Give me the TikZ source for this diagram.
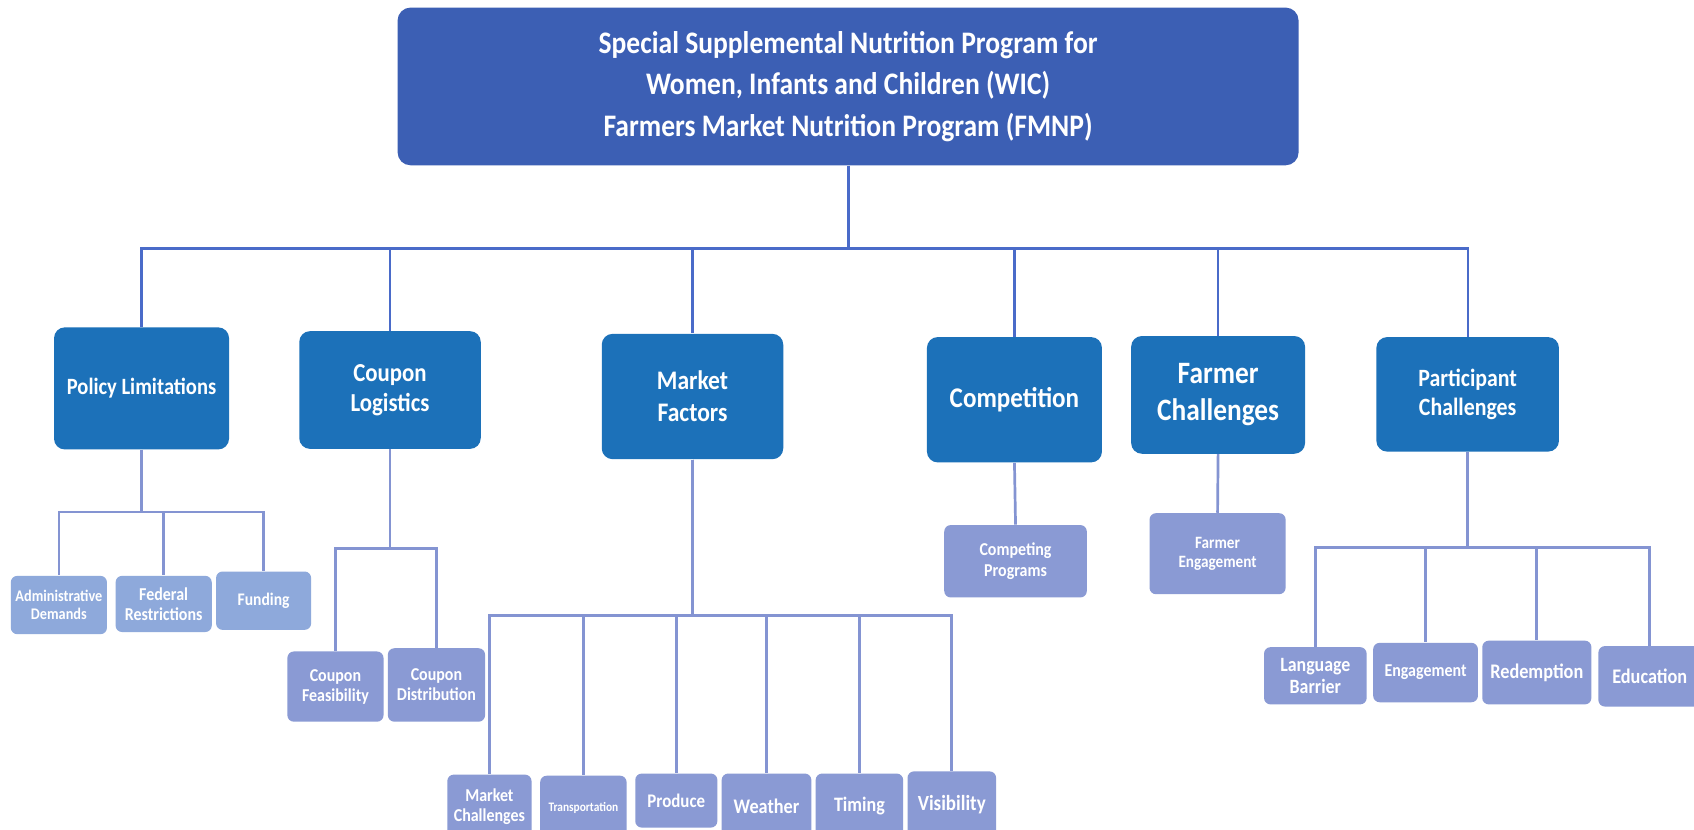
\documentclass[tikz,border=0pt]{standalone}
\usepackage{fontspec}
\setmainfont{Carlito}[FakeStretch=0.88]

\definecolor{rootblue}{HTML}{3C5FB4}
\definecolor{catblue}{HTML}{1C71B9}
\definecolor{leafblue}{HTML}{8A9AD4}
\definecolor{leaflight}{HTML}{8EA9DB}
\definecolor{trunkline}{HTML}{4A6BC9}
\definecolor{branchline}{HTML}{8494D2}

\tikzset{
  box/.style={rectangle, inner sep=1pt, align=center, text=white},
  fsz/.style 2 args={font=\fontsize{#1}{#2}\selectfont\bfseries},
  rootbox/.style={box, fill=rootblue, rounded corners=6pt},
  catbox/.style={box, fill=catblue, rounded corners=5pt},
  leafbox/.style={box, fill=leafblue, rounded corners=3pt},
  lightleaf/.style={box, fill=leaflight, rounded corners=3pt},
  trunk/.style={draw=trunkline, line width=1pt},
  branch/.style={draw=branchline, line width=1.25pt},
}

\begin{document}
\begin{tikzpicture}[x=0.5pt, y=-0.5pt]
\clip (0,0) rectangle (1568,768);
\fill[white] (0,0) rectangle (1568,768);

% top-level programme
\node[rootbox, minimum width=417pt, minimum height=73pt, fsz={14.5}{19.2}] (root) at (785,80)
  {Special Supplemental Nutrition Program for\\Women, Infants and Children (WIC)\\Farmers Market Nutrition Program (FMNP)};

% categories
\node[catbox, minimum width=81pt, minimum height=56.5pt, fsz={10.8}{12.7}] (pol) at (131,359.5) {Policy Limitations};
\node[catbox, minimum width=84pt, minimum height=54.5pt, fsz={12}{14}] (cpl) at (361,361) {Coupon\\Logistics};
\node[catbox, minimum width=84pt, minimum height=58pt, fsz={12.4}{14.8}] (mkt) at (641,367) {Market\\Factors};
\node[catbox, minimum width=81pt, minimum height=58pt, fsz={13.2}{15.5}] (cmp) at (939,370) {Competition};
\node[catbox, minimum width=80.5pt, minimum height=54.5pt, fsz={14.4}{17}] (frm) at (1127.5,365.5) {Farmer\\Challenges};
\node[catbox, minimum width=84.5pt, minimum height=53pt, fsz={11.5}{13.2}] (prt) at (1358.5,365) {Participant\\Challenges};

% policy limitations
\node[lightleaf, minimum width=44.5pt, minimum height=27pt, fsz={7.5}{8.4}] (adm) at (54.5,560) {Administrative\\Demands};
\node[lightleaf, minimum width=44.5pt, minimum height=26pt, fsz={8.4}{9.2}] (fed) at (151.5,559) {Federal\\Restrictions};
\node[lightleaf, minimum width=44pt, minimum height=27pt, fsz={8.2}{9}] (fnd) at (244,556) {Funding};

% coupon logistics
\node[leafbox, minimum width=44.5pt, minimum height=32.5pt, fsz={8.4}{9.2}] (cfe) at (310.5,635.5) {Coupon\\Feasibility};
\node[leafbox, minimum width=45pt, minimum height=34pt, fsz={8.4}{9.2}] (cdi) at (404,634) {Coupon\\Distribution};

% market factors
\node[leafbox, minimum width=39pt, minimum height=30pt, fsz={8.4}{9.2}] (mch) at (453,747) {Market\\Challenges};
\node[leafbox, minimum width=40pt, minimum height=30pt, fsz={6}{7}] (trn) at (540,748) {Transportation};
\node[leafbox, minimum width=38pt, minimum height=25pt, fsz={8.9}{10}] (pro) at (626,741) {Produce};
\node[leafbox, minimum width=41.5pt, minimum height=30pt, fsz={9.6}{10.5}] (wea) at (709.5,746) {Weather};
\node[leafbox, minimum width=40.5pt, minimum height=30pt, fsz={9.5}{10.5}] (tim) at (795.5,746) {Timing};
\node[leafbox, minimum width=41pt, minimum height=31pt, fsz={10}{11}] (vis) at (881,745) {Visibility};

% competition and farmers
\node[leafbox, minimum width=66pt, minimum height=33.5pt, fsz={8.4}{9.5}] (cpg) at (940,519.5) {Competing\\Programs};
\node[leafbox, minimum width=63pt, minimum height=37.5pt, fsz={8}{9}] (fen) at (1127,512.5) {Farmer\\Engagement};

% participant challenges
\node[leafbox, minimum width=47.5pt, minimum height=26.5pt, fsz={9.4}{10}] (lng) at (1217.5,625.5) {Language\\Barrier};
\node[leafbox, minimum width=48.5pt, minimum height=27.5pt, fsz={8.4}{9.2}] (eng) at (1319.5,622.5) {Engagement};
\node[leafbox, minimum width=50.5pt, minimum height=29.5pt, fsz={9.6}{10.5}] (red) at (1422.5,622.5) {Redemption};
\node[leafbox, minimum width=47.5pt, minimum height=28pt, fsz={9.6}{10.5}] (edu) at (1527,626) {Education};

% bus levels
\coordinate (busR) at (0,230);
\coordinate (busP) at (0,474);
\coordinate (busC) at (0,508);
\coordinate (busM) at (0,570);
\coordinate (busQ) at (0,507);

% programme to categories
\draw[trunk, line width=1.4pt] (root.south) -- (root.south |- busR);
\foreach \c in {pol,cpl,mkt,cmp,frm,prt}
  \draw[trunk] (root.south |- busR) -| (\c.north);

% categories to their items
\foreach \c in {adm,fed,fnd}
  \draw[branch] (pol.south) -- (pol.south |- busP) -| (\c.north);
\foreach \c in {cfe,cdi}
  \draw[branch] (cpl.south) -- (cpl.south |- busC) -| (\c.north);
\foreach \c in {mch,trn,pro,wea,tim,vis}
  \draw[branch] (mkt.south) -- (mkt.south |- busM) -| (\c.north);
\draw[branch] (cmp.south) -- (cpg.north);
\draw[branch] (frm.south) -- (fen.north);
\foreach \c in {lng,eng,red,edu}
  \draw[branch] (prt.south) -- (prt.south |- busQ) -| (\c.north);
\end{tikzpicture}
\end{document}
